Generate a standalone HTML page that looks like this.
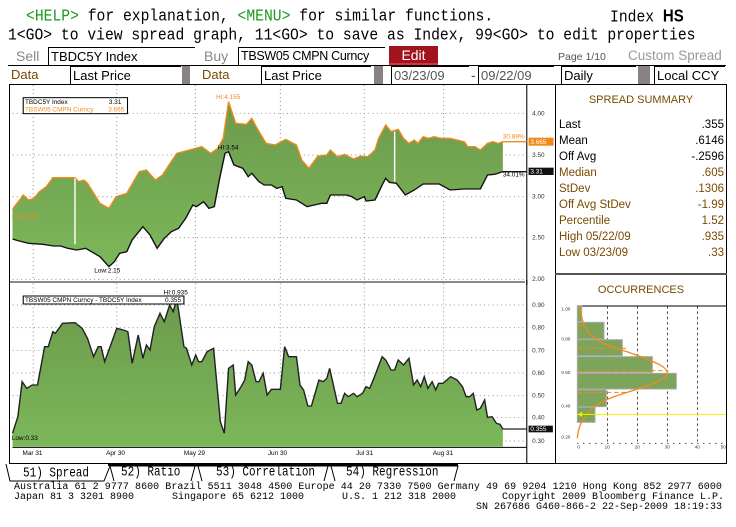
<!DOCTYPE html>
<html><head><meta charset="utf-8"><style>
body{margin:0;width:736px;height:527px;background:#fff;position:relative;overflow:hidden;font-family:"Liberation Mono",monospace}
.a{position:absolute;white-space:pre}
.t{font-size:14.7px;line-height:18px;transform:scaleY(1.15);transform-origin:0 50%}
.box{position:absolute;background:#fff;border-top:1px solid #000;border-left:1px solid #000;font-family:"Liberation Sans",sans-serif;font-size:14px;line-height:17px;padding-left:2px;box-sizing:border-box;height:18px;white-space:nowrap;overflow:hidden}
.g{position:absolute;background:#8a8282;height:18px}
.lbl{position:absolute;font-family:"Liberation Sans",sans-serif;font-size:14px;line-height:18px;white-space:nowrap}
.s{position:absolute;font-family:"Liberation Sans",sans-serif;font-size:10.5px;line-height:12px}
.ft{font-family:"Liberation Mono",monospace;font-size:10px;line-height:10px}
.tab{position:absolute;font-family:"Liberation Mono",monospace;font-size:11px;line-height:14px;white-space:pre;transform:scaleY(1.25)}
</style></head><body>
<div class="a t" style="left:26px;top:8px"><span style="color:#1a9a1a">&lt;HELP&gt;</span> for explanation, <span style="color:#1a9a1a">&lt;MENU&gt;</span> for similar functions.</div>
<div class="a t" style="left:610px;top:8px">Index <b style="font-family:'Liberation Sans';font-size:15px">HS</b></div>
<div class="a t" style="left:8px;top:27px">1&lt;GO&gt; to view spread graph, 11&lt;GO&gt; to save as Index, 99&lt;GO&gt; to edit properties</div>

<div class="lbl" style="left:16px;top:47px;color:#888">Sell</div>
<div class="box" style="left:48px;top:47px;width:147px;font-size:13px">TBDC5Y Index</div>
<div class="lbl" style="left:204px;top:47px;color:#888">Buy</div>
<div class="box" style="left:238px;top:47px;width:147px;font-size:12.5px;letter-spacing:-0.3px">TBSW05 CMPN Curncy</div>
<div class="lbl" style="left:389px;top:46px;width:49px;height:19px;background:#a0141e;color:#fff;text-align:center;border-bottom:2px solid #e03040;box-sizing:border-box">Edit</div>
<div class="s" style="left:558px;top:51px;color:#555">Page 1/10</div>
<div class="lbl" style="left:628px;top:47px;color:#999;font-size:13.5px">Custom Spread</div>

<div style="position:absolute;left:8px;top:65px;width:718px;height:1px;background:#000"></div>
<div class="lbl" style="left:11px;top:66px;color:#7a4a00;font-size:13px">Data</div>
<div class="box" style="left:70px;top:66px;width:111px;font-size:13px">Last Price</div>
<div class="g" style="left:182px;top:66px;width:8px"></div>
<div class="lbl" style="left:202px;top:66px;color:#7a4a00;font-size:13px">Data</div>
<div class="box" style="left:261px;top:66px;width:110px;font-size:13px">Last Price</div>
<div class="g" style="left:374px;top:66px;width:9px"></div>
<div class="box" style="left:391px;top:66px;width:78px;color:#555;font-size:13px">03/23/09</div>
<div class="lbl" style="left:471px;top:66px;color:#7a4a00">-</div>
<div class="box" style="left:478px;top:66px;width:76px;color:#555;font-size:13px">09/22/09</div>
<div class="box" style="left:561px;top:66px;width:75px;font-size:13px">Daily</div>
<div class="g" style="left:638px;top:66px;width:12px"></div>
<div class="box" style="left:654px;top:66px;width:71px;font-size:13px">Local CCY</div>

<!-- frame -->
<div style="position:absolute;left:9px;top:84px;width:718px;height:380px;border:1px solid #000;box-sizing:border-box"></div>
<div style="position:absolute;left:555px;top:84px;width:1px;height:380px;background:#000"></div>
<div style="position:absolute;left:555px;top:273px;width:172px;height:2px;background:#555"></div>
<div style="position:absolute;left:10px;top:281px;width:515px;height:2px;background:#888"></div>

<svg class="a" style="left:0;top:85px" width="560" height="200" viewBox="0 0 1568 600" preserveAspectRatio="none">
<defs><linearGradient id="gr" x1="0" y1="0" x2="0" y2="1"><stop offset="0" stop-color="#6c9a4c"/><stop offset="1" stop-color="#7cb75a"/></linearGradient></defs>
<line x1="1475" y1="0" x2="1475" y2="600" stroke="#000" stroke-width="3"/>
<g stroke="#999" stroke-width="3" stroke-dasharray="3,9">
<line x1="35" y1="85" x2="1475" y2="85"/><line x1="35" y1="210" x2="1475" y2="210"/><line x1="35" y1="335" x2="1475" y2="335"/><line x1="35" y1="458" x2="1475" y2="458"/><line x1="35" y1="583" x2="1475" y2="583"/>
<line x1="93" y1="0" x2="93" y2="590"/><line x1="327" y1="0" x2="327" y2="590"/><line x1="547" y1="0" x2="547" y2="590"/><line x1="785" y1="0" x2="785" y2="590"/><line x1="1020" y1="0" x2="1020" y2="590"/><line x1="1242" y1="0" x2="1242" y2="590"/>
</g>
<polygon fill="url(#gr)" points="35,375 40,365 55,345 65,330 80,345 95,340 110,320 130,305 148,278 210,278 220,290 235,285 245,295 280,355 305,370 325,335 355,325 390,260 410,255 435,285 455,270 470,245 495,205 530,195 565,185 590,205 610,190 625,160 640,50 660,115 690,118 705,100 720,130 745,175 770,180 800,163 830,180 845,225 865,250 890,213 915,210 925,195 945,215 965,208 990,222 1010,213 1030,215 1050,195 1060,160 1080,120 1095,140 1115,133 1130,160 1145,175 1160,165 1170,175 1185,155 1200,160 1215,155 1235,160 1260,160 1300,170 1310,185 1330,185 1345,195 1365,175 1380,170 1395,175 1408,170 1408,260 1385,268 1365,270 1345,312 1300,312 1260,315 1230,297 1185,297 1160,315 1135,330 1110,295 1090,292 1080,280 1070,300 1050,345 1025,348 1020,335 1000,345 985,335 970,330 925,330 915,355 900,355 880,360 860,365 830,345 800,340 790,305 775,310 760,300 740,300 725,290 705,265 695,275 680,250 655,240 640,200 630,205 615,280 600,365 585,370 570,350 550,365 540,360 520,400 500,430 480,440 460,460 440,490 420,450 400,425 385,445 370,465 355,500 335,505 320,530 305,545 280,515 240,490 215,495 190,490 170,483 150,483 120,478 80,475 50,467 35,462"/>
<polyline fill="none" stroke="#f08a1c" stroke-width="4" points="35,375 40,365 55,345 65,330 80,345 95,340 110,320 130,305 148,278 210,278 220,290 235,285 245,295 280,355 305,370 325,335 355,325 390,260 410,255 435,285 455,270 470,245 495,205 530,195 565,185 590,205 610,190 625,160 640,50 660,115 690,118 705,100 720,130 745,175 770,180 800,163 830,180 845,225 865,250 890,213 915,210 925,195 945,215 965,208 990,222 1010,213 1030,215 1050,195 1060,160 1080,120 1095,140 1115,133 1130,160 1145,175 1160,165 1170,175 1185,155 1200,160 1215,155 1235,160 1260,160 1300,170 1310,185 1330,185 1345,195 1365,175 1380,170 1395,175 1408,170 1475,170"/>
<polyline fill="none" stroke="#111" stroke-width="4" points="35,462 50,467 80,475 120,478 150,483 170,483 190,490 215,495 240,490 280,515 305,545 320,530 335,505 355,500 370,465 385,445 400,425 420,450 440,490 460,460 480,440 500,430 520,400 540,360 550,365 570,350 585,370 600,365 615,280 630,205 640,200 655,240 680,250 695,275 705,265 725,290 740,300 760,300 775,310 790,305 800,340 830,345 860,365 880,360 900,355 915,355 925,330 970,330 985,335 1000,345 1020,335 1025,348 1050,345 1070,300 1080,280 1090,292 1110,295 1135,330 1160,315 1185,297 1230,297 1260,315 1300,312 1345,312 1365,270 1385,268 1408,260 1475,260"/>
<line x1="210" y1="280" x2="210" y2="478" stroke="#fff" stroke-width="4"/>
<line x1="1105" y1="140" x2="1105" y2="290" stroke="#fff" stroke-width="4"/>
<rect x="65" y="38" width="292" height="48" fill="#fff" stroke="#000" stroke-width="3"/>
<g font-family="Liberation Sans" font-size="18">
<text x="70" y="57">TBDC5Y Index</text><text x="305" y="57">3.31</text>
<text x="70" y="79" fill="#f08a1c">TBSW05 CMPN Curncy</text><text x="303" y="79" fill="#f08a1c">3.665</text>
<text x="605" y="42" fill="#f08a1c">HI:4.155</text>
<text x="610" y="193">HI:3.54</text>
<text x="264" y="563">Low:2.15</text>
<text x="33" y="400" fill="#f08a1c">Low:2.80</text>
<text x="1408" y="160" fill="#f08a1c">30.89%</text>
<text x="1408" y="275">34.01%</text>
<g fill="#333"><text x="1490" y="92">4.00</text><text x="1490" y="216">3.50</text><text x="1490" y="340">3.00</text><text x="1490" y="464">2.50</text><text x="1490" y="588">2.00</text></g>
</g>
<rect x="1480" y="158" width="70" height="24" fill="#f08a1c"/><text x="1485" y="177" font-family="Liberation Sans" font-size="18" fill="#fff">3.665</text>
<rect x="1480" y="248" width="70" height="22" fill="#111"/><text x="1485" y="266" font-family="Liberation Sans" font-size="18" fill="#fff">3.31</text>
</svg>

<svg class="a" style="left:0;top:280px" width="560" height="190" viewBox="0 0 1568 570" preserveAspectRatio="none">
<line x1="1475" y1="0" x2="1475" y2="550" stroke="#000" stroke-width="3"/>
<line x1="35" y1="502" x2="1475" y2="502" stroke="#000" stroke-width="3"/>
<g stroke="#999" stroke-width="3" stroke-dasharray="3,9">
<line x1="35" y1="75" x2="1475" y2="75"/><line x1="35" y1="143" x2="1475" y2="143"/><line x1="35" y1="211" x2="1475" y2="211"/><line x1="35" y1="279" x2="1475" y2="279"/><line x1="35" y1="347" x2="1475" y2="347"/><line x1="35" y1="413" x2="1475" y2="413"/><line x1="35" y1="483" x2="1475" y2="483"/>
<line x1="93" y1="10" x2="93" y2="500"/><line x1="327" y1="10" x2="327" y2="500"/><line x1="547" y1="10" x2="547" y2="500"/><line x1="785" y1="10" x2="785" y2="500"/><line x1="1020" y1="10" x2="1020" y2="500"/><line x1="1242" y1="10" x2="1242" y2="500"/>
</g>
<polygon fill="url(#gr)" points="35,500 35,460 50,410 62,305 75,325 90,315 105,315 125,200 135,200 148,155 155,160 175,130 210,128 230,145 245,175 262,230 275,200 283,200 293,245 310,195 327,145 345,150 358,155 370,250 387,165 400,235 410,195 420,210 432,140 448,100 460,125 475,75 485,95 495,55 515,200 522,205 537,255 548,225 556,245 565,245 580,215 598,205 617,425 628,460 640,265 653,255 660,345 675,320 685,300 695,245 705,255 717,305 725,305 737,280 748,345 760,328 785,328 797,200 808,230 830,230 840,315 850,330 862,378 872,378 893,300 905,305 915,295 923,265 945,370 955,370 965,340 975,350 990,340 1000,350 1015,340 1025,320 1035,325 1045,300 1070,230 1080,240 1095,270 1105,270 1115,240 1130,255 1145,235 1158,315 1168,300 1178,320 1188,290 1198,325 1210,305 1220,330 1228,310 1240,310 1262,290 1280,300 1295,320 1305,350 1315,350 1325,340 1335,390 1345,385 1357,360 1365,412 1378,410 1390,430 1400,433 1408,447 1408,500"/>
<polyline fill="none" stroke="#222" stroke-width="4" points="35,460 50,410 62,305 75,325 90,315 105,315 125,200 135,200 148,155 155,160 175,130 210,128 230,145 245,175 262,230 275,200 283,200 293,245 310,195 327,145 345,150 358,155 370,250 387,165 400,235 410,195 420,210 432,140 448,100 460,125 475,75 485,95 495,55 515,200 522,205 537,255 548,225 556,245 565,245 580,215 598,205 617,425 628,460 640,265 653,255 660,345 675,320 685,300 695,245 705,255 717,305 725,305 737,280 748,345 760,328 785,328 797,200 808,230 830,230 840,315 850,330 862,378 872,378 893,300 905,305 915,295 923,265 945,370 955,370 965,340 975,350 990,340 1000,350 1015,340 1025,320 1035,325 1045,300 1070,230 1080,240 1095,270 1105,270 1115,240 1130,255 1145,235 1158,315 1168,300 1178,320 1188,290 1198,325 1210,305 1220,330 1228,310 1240,310 1262,290 1280,300 1295,320 1305,350 1315,350 1325,340 1335,390 1345,385 1357,360 1365,412 1378,410 1390,430 1400,433 1408,447 1475,447"/>
<rect x="65" y="48" width="450" height="24" fill="#fff" stroke="#000" stroke-width="3"/>
<g font-family="Liberation Sans" font-size="18">
<text x="70" y="66">TBSW05 CMPN Curncy - TBDC5Y Index</text><text x="462" y="66">0.355</text>
<text x="458" y="44">HI:0.935</text>
<text x="33" y="480">Low:0.33</text>
<g fill="#333"><text x="1490" y="81">0.90</text><text x="1490" y="149">0.80</text><text x="1490" y="217">0.70</text><text x="1490" y="285">0.60</text><text x="1490" y="353">0.50</text><text x="1490" y="419">0.40</text><text x="1490" y="489">0.30</text></g>
<text x="63" y="525">Mar 31</text><text x="297" y="525">Apr 30</text><text x="515" y="525">May 29</text><text x="750" y="525">Jun 30</text><text x="997" y="525">Jul 31</text><text x="1212" y="525">Aug 31</text>
</g>
<rect x="1480" y="437" width="68" height="20" fill="#111"/><text x="1485" y="453" font-family="Liberation Sans" font-size="18" fill="#fff">0.355</text>
</svg>

<!-- summary -->
<div class="s" style="left:555px;top:94px;width:172px;text-align:center;color:#7a4a00;font-size:11px">SPREAD SUMMARY</div>
<div style="position:absolute;left:559px;top:117px;width:165px;font-family:'Liberation Sans',sans-serif;font-size:11.5px;line-height:16px">
<div style="color:#000">Last<span style="float:right">.355</span></div>
<div style="color:#000">Mean<span style="float:right">.6146</span></div>
<div style="color:#000">Off Avg<span style="float:right">-.2596</span></div>
<div style="color:#7a4a00">Median<span style="float:right">.605</span></div>
<div style="color:#7a4a00">StDev<span style="float:right">.1306</span></div>
<div style="color:#7a4a00">Off Avg StDev<span style="float:right">-1.99</span></div>
<div style="color:#7a4a00">Percentile<span style="float:right">1.52</span></div>
<div style="color:#7a4a00">High 05/22/09<span style="float:right">.935</span></div>
<div style="color:#7a4a00">Low 03/23/09<span style="float:right">.33</span></div>
</div>
<div class="s" style="left:555px;top:284px;width:172px;text-align:center;color:#7a4a00;font-size:11px">OCCURRENCES</div>
<svg class="a" style="left:550px;top:85px" width="186" height="380" viewBox="0 0 558 1140">
<line x1="82" y1="663" x2="528" y2="663" stroke="#000" stroke-width="3"/>
<g stroke="#000" stroke-width="2" stroke-dasharray="8,8"><line x1="172" y1="663" x2="172" y2="1070"/><line x1="262" y1="663" x2="262" y2="1070"/><line x1="352" y1="663" x2="352" y2="1070"/><line x1="442" y1="663" x2="442" y2="1070"/></g>
<g fill="#7ca45a" stroke="#aaa" stroke-width="3">
<rect x="82" y="662" width="13" height="48"/><rect x="82" y="712" width="80" height="50"/><rect x="82" y="764" width="135" height="48"/><rect x="82" y="815" width="225" height="47"/><rect x="82" y="865" width="297" height="47"/><rect x="82" y="915" width="87" height="50"/><rect x="82" y="967" width="53" height="45"/></g>
<g stroke="#f08a1c" stroke-width="3" stroke-dasharray="14,8"><line x1="82" y1="722" x2="100" y2="722"/><line x1="82" y1="790" x2="230" y2="790"/><line x1="82" y1="857" x2="355" y2="857"/><line x1="82" y1="922" x2="230" y2="922"/></g>
<path d="M90,665 C100,760 140,770 230,800 C330,835 360,850 350,870 C330,905 200,920 140,960 C100,990 85,1020 82,1060" fill="none" stroke="#f08a1c" stroke-width="4"/>
<line x1="82" y1="988" x2="528" y2="988" stroke="#f5f000" stroke-width="3"/>
<polygon points="84,988 96,980 96,996" fill="#f5f000"/>
<line x1="82" y1="1075" x2="528" y2="1075" stroke="#000" stroke-width="3" stroke-dasharray="3,15"/>
<g font-family="Liberation Sans" font-size="14" fill="#333"><text x="34" y="677">1.00</text><text x="34" y="767">0.80</text><text x="34" y="867">0.60</text><text x="34" y="968">0.40</text><text x="34" y="1060">0.20</text>
<text x="82" y="1090">0</text><text x="164" y="1090">10</text><text x="254" y="1090">20</text><text x="344" y="1090">30</text><text x="434" y="1090">40</text><text x="512" y="1090">50</text></g>
</svg>

<!-- tabs -->
<svg class="a" style="left:0;top:462px" width="470" height="22">
<path d="M6,2 L10,19 L104,19 L110,4 L195,4 L191,19 M110,4 L114,19 M195,4 L198,4 L328,4 L324,19 M198,4 L202,19 M328,4 L331,4 L458,4 L454,19 M331,4 L335,19" fill="none" stroke="#000"/>
<line x1="108" y1="3" x2="458" y2="3" stroke="#000" stroke-width="2"/>
</svg>
<div class="tab" style="left:23px;top:467px">51) Spread</div>
<div class="tab" style="left:121px;top:466px">52) Ratio</div>
<div class="tab" style="left:216px;top:466px">53) Correlation</div>
<div class="tab" style="left:346px;top:466px">54) Regression</div>

<div class="a ft" style="left:14px;top:483px;letter-spacing:0.05px">Australia 61 2 9777 8600 Brazil 5511 3048 4500 Europe 44 20 7330 7500 Germany 49 69 9204 1210 Hong Kong 852 2977 6000</div>
<div class="a ft" style="left:14px;top:493px">Japan 81 3 3201 8900</div>
<div class="a ft" style="left:172px;top:493px">Singapore 65 6212 1000</div>
<div class="a ft" style="left:342px;top:493px">U.S. 1 212 318 2000</div>
<div class="a ft" style="left:502px;top:493px">Copyright 2009 Bloomberg Finance L.P.</div>
<div class="a ft" style="left:476px;top:503px">SN 267686 G460-866-2 22-Sep-2009 18:19:33</div>
</body></html>
